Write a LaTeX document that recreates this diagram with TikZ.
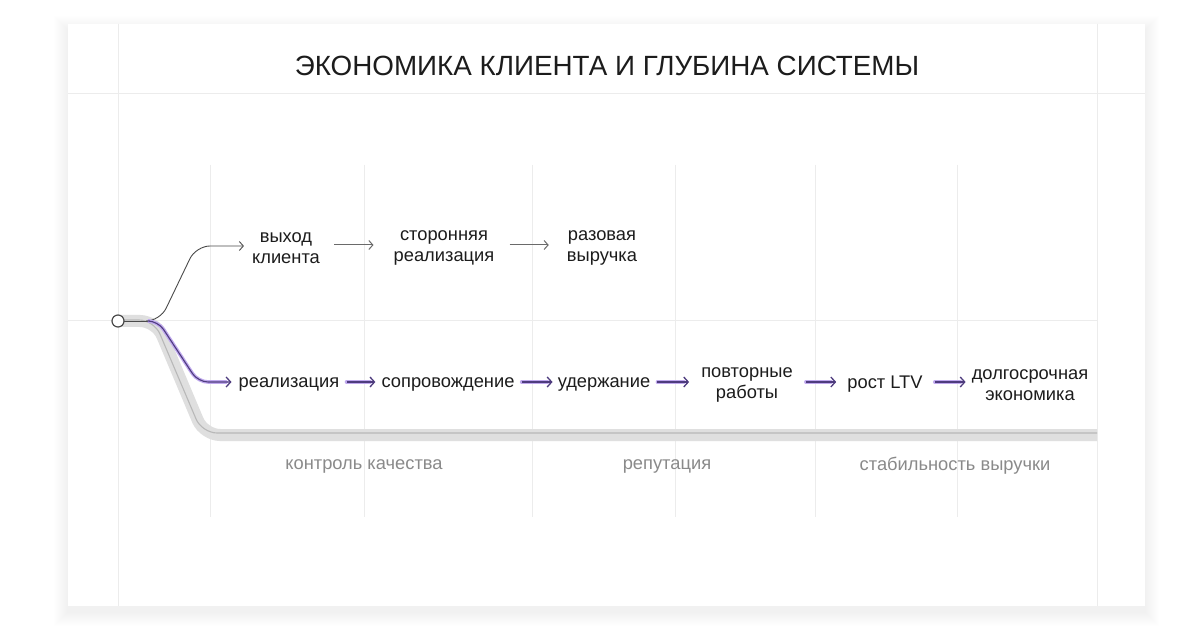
\documentclass[tikz,border=0pt]{standalone}
\usepackage{fontspec}
\setmainfont{Liberation Sans}
\usetikzlibrary{arrows.meta}
\definecolor{gridc}{HTML}{ECECEC}
\definecolor{txt}{HTML}{1C1C1C}
\definecolor{subtxt}{HTML}{8A8A8A}
\definecolor{pipeL}{HTML}{DFDFDF}
\definecolor{pipeD}{HTML}{B8B8B8}
\definecolor{purL}{HTML}{BFA8EE}
\definecolor{purD}{HTML}{4E3C7E}
\definecolor{darkln}{HTML}{4A4A4A}
\definecolor{grayar}{HTML}{6A6A6A}
\tikzset{
  lbl/.style={font=\fontsize{18.3}{20.5}\selectfont, text=txt, align=center, inner sep=0pt},
  sublbl/.style={font=\fontsize{18.3}{20.5}\selectfont, text=subtxt, inner sep=0pt},
  gridln/.style={draw=gridc, line width=0.9pt},
  grayarrow/.style={draw=grayar, line width=1pt, -{Straight Barb[length=4pt,width=9pt,line width=1pt]}},
  purhalo/.style={draw=purL, line width=3.6pt, line cap=round},
  purcore/.style={draw=purD, line width=1.1pt, -{Straight Barb[length=4.5pt,width=10pt,line width=1.3pt]}},
}
% purple arrow between two nodes at height #5
\newcommand{\parr}[5]{%
  \draw[purhalo] ([xshift=#3]#1.east |- 0,#5) -- ([xshift=-#4-5pt]#2.west |- 0,#5);
  \draw[purcore] ([xshift=#3]#1.east |- 0,#5) -- ([xshift=-#4]#2.west |- 0,#5);}
\begin{document}
\begin{tikzpicture}[x=1pt,y=-1pt]
\useasboundingbox (0,0) rectangle (1200,644);
\fill[white] (0,0) rectangle (1200,644);
% shadow
\foreach \i in {1,...,14}
  \fill[black,opacity=0.0055] (68-\i,24-\i+6) rectangle (1145+\i,606+\i+6);
\fill[white] (68,24) rectangle (1145,606);
% grid
\draw[gridln] (68,93) -- (1145,93);
\draw[gridln] (118,24) -- (118,606);
\draw[gridln] (1097,24) -- (1097,606);
\draw[gridln] (68,320) -- (1097,320);
\foreach \x in {210,364,532,675,815,957}
  \draw[gridln] (\x,165) -- (\x,517);
% title
\node[font=\fontsize{27.8}{32}\selectfont, text=txt, inner sep=0pt] (title) at (607,66) {ЭКОНОМИКА КЛИЕНТА И ГЛУБИНА СИСТЕМЫ};
% top row
\node[lbl] (n1) at (286,248) {выход\\клиента};
\node[lbl] (n2) at (444,248) {сторонняя\\реализация};
\node[lbl] (n3) at (602,248) {разовая\\выручка};
% middle row
\node[lbl] (m1) at (289,384) {реализация};
\node[lbl] (m2) at (448,384) {сопровождение};
\node[lbl] (m3) at (604,384) {удержание};
\node[lbl] (m4) at (747,385) {повторные\\работы};
\node[lbl] (m5) at (885,384) {рост LTV};
\node[lbl] (m6) at (1030,385) {долгосрочная\\экономика};
% bottom labels
\node[sublbl] (b1) at (364,466) {контроль качества};
\node[sublbl] (b2) at (667,466) {репутация};
\node[sublbl] (b3) at (955,466) {стабильность выручки};
% start and pipe
\coordinate (fork) at (150,321);
\coordinate (pipeend) at (1097,435);
\coordinate (pipeendi) at (1097,433);
\draw[pipeL, line width=12pt, rounded corners=16pt] (120,321) -- (156,321) -- (204,435) -- (pipeend);
\draw[pipeD, line width=1.1pt, rounded corners=15pt] (120,320) -- (154,320) -- (202,433) -- (pipeendi);
% top branch
\draw[darkln, line width=0.9pt] (124,321) -- (fork);
\draw[darkln, line width=0.9pt, rounded corners=14pt, -{Straight Barb[length=4pt,width=9pt,line width=0.9pt]}]
  (fork) -- (160,321) -- (196,246) -- ([xshift=-8pt]n1.west |- 0,246);
% purple branch
\draw[purhalo, rounded corners=10pt] (fork) -- (158,321) -- (198,382) -- ([xshift=-12pt]m1.west |- 0,382);
\draw[purcore, rounded corners=10pt] (fork) -- (158,321) -- (198,382) -- ([xshift=-7pt]m1.west |- 0,382);
\node[circle, draw=darkln, fill=white, line width=1.2pt, minimum size=12pt, inner sep=0pt] (start) at (118,321) {};
% top arrows
\draw[grayarrow] ([xshift=14pt]n1.east |- 0,245) -- ([xshift=-20pt]n2.west |- 0,245);
\draw[grayarrow] ([xshift=15pt]n2.east |- 0,245) -- ([xshift=-18pt]n3.west |- 0,245);
% purple arrows
\parr{m1}{m2}{7pt}{6pt}{382}
\parr{m2}{m3}{7pt}{5pt}{382}
\parr{m3}{m4}{7pt}{12pt}{382}
\parr{m4}{m5}{13pt}{11pt}{382}
\parr{m5}{m6}{12pt}{6pt}{382}
\end{tikzpicture}
\end{document}
